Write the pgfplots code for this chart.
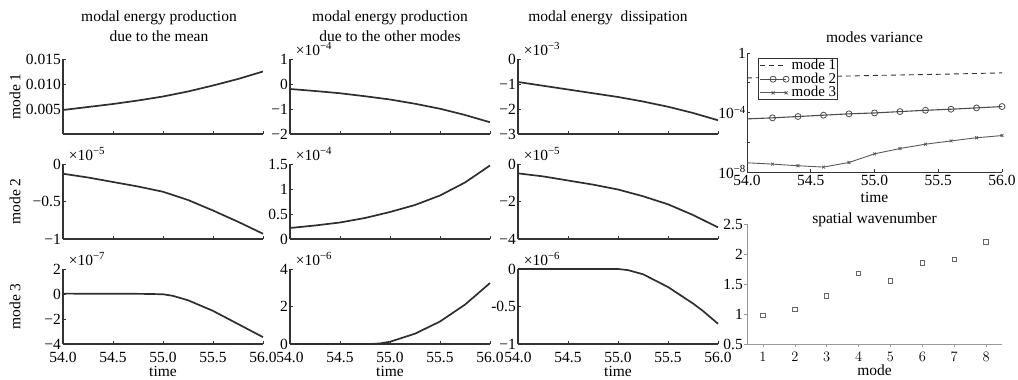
\documentclass[border=0pt]{standalone}
\usepackage{fontspec}
\setmainfont{Liberation Serif}
\usepackage{pgfplots}
\pgfplotsset{compat=1.18}
\definecolor{crv}{HTML}{2E2E2E}
\definecolor{axc}{HTML}{333333}
\pgfplotsset{
  small/.style={scale only axis, width=200pt, height=75pt, anchor=south west,
    axis lines*=left, xmin=54, xmax=56, tick align=inside, major tick length=3pt,
    clip=false, axis line style={axc, line width=1.1pt}, tick style={axc, line width=0.8pt},
    xtick={54,54.5,55,55.5,56}, xticklabels={}, scaled ticks=false,
    every axis plot post/.append style={color=crv, line width=1.7pt, mark=none},
    yticklabel style={inner sep=2pt}},
  bottomrow/.style={xticklabels={54.0,54.5,55.0,55.5,56.0}, xlabel={time},
    xticklabel style={yshift=-3pt},
    xlabel style={inner sep=0pt, yshift=2pt}},
  expo/.style={after end axis/.code={\node[anchor=base west, inner sep=0pt] at (rel axis cs:0.028,1.053) {×10\textsuperscript{−#1}};}},
}
\begin{document}
\fontsize{15.5}{17}\selectfont%
\begin{tikzpicture}
\useasboundingbox (0,0) rectangle (1018pt,380pt);
% ---------- row 1 ----------
\begin{axis}[small, at={(63pt,246pt)}, ymin=0, ymax=0.015,
  ytick={0.005,0.010,0.015}, yticklabels={0.005,0.010,0.015}]
\addplot coordinates {(54.0,0.0048)(54.25,0.0054)(54.5,0.0060)(54.75,0.0067)(55.0,0.0075)(55.25,0.0085)(55.5,0.0097)(55.75,0.0110)(56.0,0.0125)};
\node[anchor=base] at (rel axis cs:0.48,1) [yshift=37pt] {modal energy production};
\node[anchor=base] at (rel axis cs:0.48,1) [yshift=17pt] {due to the mean};
\node[rotate=90] at (rel axis cs:-0.24,0.5) {mode 1};
\end{axis}
\begin{axis}[small, expo=4, at={(290pt,246pt)}, ymin=-2, ymax=1,
  ytick={-2,-1,0,1}, yticklabels={−2,−1,0,1}]
\addplot coordinates {(54,-0.2)(54.25,-0.28)(54.5,-0.37)(54.75,-0.49)(55,-0.62)(55.25,-0.79)(55.5,-0.99)(55.75,-1.24)(56,-1.53)};
\node[anchor=base] at (rel axis cs:0.5,1) [yshift=37pt] {modal energy production};
\node[anchor=base] at (rel axis cs:0.5,1) [yshift=17pt] {due to the other modes};
\end{axis}
\begin{axis}[small, expo=3, at={(518pt,246pt)}, ymin=-3, ymax=0,
  ytick={-3,-2,-1,0}, yticklabels={−3,−2,−1,0}]
\addplot coordinates {(54,-0.92)(54.25,-1.07)(54.5,-1.22)(54.75,-1.37)(55,-1.52)(55.25,-1.70)(55.5,-1.91)(55.75,-2.16)(56,-2.45)};
\node[anchor=base] at (rel axis cs:0.45,1) [yshift=37pt] {modal energy\ \ dissipation};
\end{axis}
% ---------- row 2 ----------
\begin{axis}[small, expo=5, at={(63pt,141pt)}, ymin=-1, ymax=0,
  ytick={-1,-0.5,0}, yticklabels={−1,−0.5,0}]
\addplot coordinates {(54,-0.13)(54.25,-0.18)(54.5,-0.24)(54.75,-0.30)(55,-0.37)(55.25,-0.48)(55.5,-0.62)(55.75,-0.77)(56,-0.93)};
\node[rotate=90] at (rel axis cs:-0.24,0.5) {mode 2};
\end{axis}
\begin{axis}[small, expo=4, at={(290pt,141pt)}, ymin=0, ymax=1.5,
  ytick={0,0.5,1,1.5}, yticklabels={0,0.5,1,1.5}]
\addplot coordinates {(54,0.22)(54.25,0.27)(54.5,0.33)(54.75,0.42)(55,0.54)(55.25,0.68)(55.5,0.87)(55.75,1.13)(56,1.47)};
\end{axis}
\begin{axis}[small, expo=5, at={(518pt,141pt)}, ymin=-4, ymax=0,
  ytick={-4,-2,0}, yticklabels={−4,−2,0}]
\addplot coordinates {(54,-0.50)(54.25,-0.66)(54.5,-0.88)(54.75,-1.10)(55,-1.36)(55.25,-1.72)(55.5,-2.15)(55.75,-2.72)(56,-3.38)};
\end{axis}
% ---------- row 3 ----------
\begin{axis}[small, bottomrow, expo=7, at={(63pt,36pt)}, ymin=-4, ymax=2,
  ytick={-4,-2,0,2}, yticklabels={−4,−2,0,2}]
\addplot coordinates {(54,0.03)(54.5,0.02)(54.8,0.01)(55,-0.02)(55.1,-0.15)(55.25,-0.5)(55.5,-1.35)(55.75,-2.4)(56,-3.45)};
\node[rotate=90] at (rel axis cs:-0.24,0.5) {mode 3};
\end{axis}
\begin{axis}[small, bottomrow, expo=6, at={(290pt,36pt)}, ymin=0, ymax=4,
  ytick={0,2,4}, yticklabels={0,2,4}]
\addplot coordinates {(54,0)(54.8,0)(54.9,0.03)(55,0.12)(55.25,0.55)(55.5,1.2)(55.75,2.1)(56,3.25)};
\end{axis}
\begin{axis}[small, bottomrow, expo=6, at={(518pt,36pt)}, ymin=-1, ymax=0,
  ytick={-1,-0.5,0}, yticklabels={−1,-0.5,0}]
\addplot coordinates {(54,0)(55,0)(55.1,-0.015)(55.25,-0.07)(55.5,-0.24)(55.75,-0.46)(55.85,-0.56)(56,-0.73)};
\end{axis}
% ---------- variance ----------
\begin{axis}[scale only axis, width=255pt, height=119pt, anchor=south west, at={(747pt,208pt)},
  ymode=log, ymin=1e-8, ymax=1, xmin=54, xmax=56, axis lines*=left, tick align=inside,
  major tick length=3pt, clip=false,
  axis line style={axc, line width=0.8pt}, tick style={axc, line width=0.6pt},
  ytick={1e-8,1e-6,1e-4,1e-2,1}, yticklabels={10\textsuperscript{−8},,10\textsuperscript{−4},,1},
  yminorticks=false, yticklabel style={inner sep=1pt},
  xtick={54,54.5,55,55.5,56}, xticklabels={54.0,54.5,55.0,55.5,56.0},
  xticklabel style={inner sep=1pt, yshift=-2pt},
  xlabel={time}, xlabel style={inner sep=0pt, yshift=-5pt},
  title={modes variance}, title style={yshift=-1pt},
  legend cell align=left,
  legend style={at={(0.043,0.958)}, anchor=north west, draw=axc, line width=1.2pt, fill=white,
    inner xsep=1pt, inner ysep=0pt, nodes={inner sep=0.5pt}, font=\fontsize{15}{13}\selectfont,
    /tikz/every odd column/.append style={column sep=2pt}},
  legend image code/.code={\draw[mark repeat=2,mark phase=2,#1] plot coordinates {(0pt,0pt) (13pt,0pt) (26pt,0pt)};}]
\addplot[color=black!80, line width=0.9pt, dash pattern=on 5pt off 4pt] coordinates
 {(54.0,0.021)(54.5,0.025)(55.0,0.031)(55.5,0.037)(56.0,0.046)};
\addlegendentry{mode 1}
\addplot[color=black!70, line width=1.1pt, mark=o, mark size=3pt, mark options={solid, line width=0.8pt}, mark indices={2,...,11}] coordinates
 {(54.0,3.72e-5)(54.2,4.37e-5)(54.4,5.37e-5)(54.6,6.61e-5)(54.8,8.13e-5)(55.0,9.33e-5)(55.2,1.15e-4)(55.4,1.41e-4)(55.6,1.66e-4)(55.8,2.04e-4)(56.0,2.51e-4)};
\addlegendentry{mode 2}
\addplot[color=black!65, line width=0.9pt, mark=x, mark size=2pt, mark options={solid, line width=0.8pt}, mark indices={2,...,11}] coordinates
 {(54.0,4.17e-8)(54.2,3.39e-8)(54.4,2.63e-8)(54.6,2.14e-8)(54.8,4.37e-8)(55.0,1.66e-7)(55.2,3.80e-7)(55.4,7.41e-7)(55.6,1.23e-6)(55.8,2.0e-6)(56.0,2.82e-6)};
\addlegendentry{mode 3}
\end{axis}
% ---------- spatial wavenumber ----------
\begin{axis}[scale only axis, width=255pt, height=120pt, anchor=south west, at={(747pt,36pt)},
  xmin=0.5, xmax=8.5, ymin=0.5, ymax=2.5, axis lines*=left, tick align=outside,
  major tick length=3pt, clip=false,
  axis line style={black!40, line width=0.6pt}, tick style={black!40, line width=0.6pt},
  xtick={1,2,3,4,5,6,7,8}, ytick={0.5,1,1.5,2,2.5}, yticklabels={0.5,1,1.5,2,2.5},
  yticklabel style={inner sep=1pt},
  xlabel={mode}, xlabel style={inner sep=0pt, yshift=2pt},
  title={spatial wavenumber}, title style={yshift=-14pt}]
\addplot[only marks, mark=square, mark size=2.2pt, mark options={black!60, line width=0.9pt}] coordinates
 {(1,0.98)(2,1.08)(3,1.30)(4,1.68)(5,1.55)(6,1.85)(7,1.91)(8,2.20)};
\end{axis}
\end{tikzpicture}
\end{document}
